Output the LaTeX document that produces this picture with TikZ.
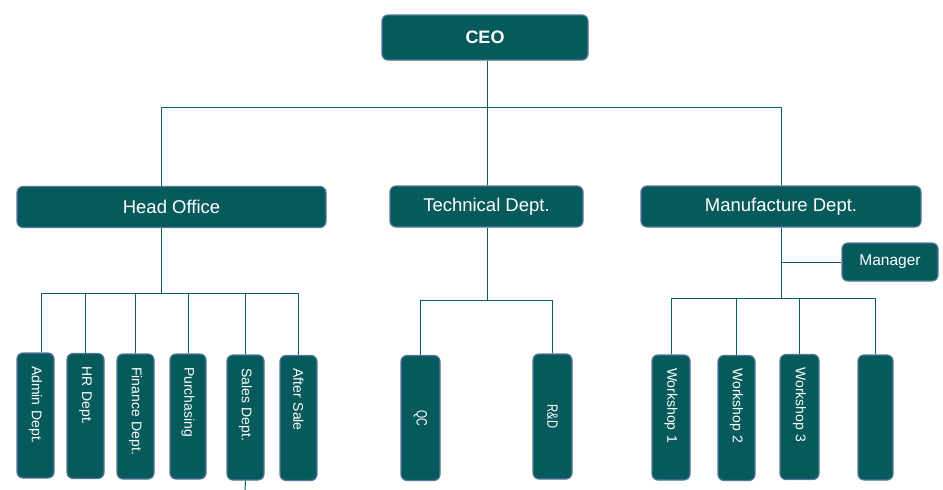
\documentclass[tikz,border=0pt]{standalone}
\usepackage{fontspec}
\setmainfont{Liberation Sans}
\definecolor{boxfill}{HTML}{075A5C}
\definecolor{boxline}{RGB}{84,118,152}
\definecolor{wirecol}{HTML}{0B5E5A}

\begin{document}
\begin{tikzpicture}[x=1pt,y=-1pt,
    box/.style={draw=boxline, line width=1.2pt, fill=boxfill, rounded corners=6pt, text=white, inner sep=0pt},
    topbox/.style={box, minimum height=41pt, font=\fontsize{18.5}{20}\selectfont},
    vbox/.style={box, rotate=-90, minimum height=37pt, inner xsep=13pt, text width=99pt, align=left, font=\fontsize{14}{16}\selectfont},
    wire/.style={draw=wirecol, line width=1pt}]
    \useasboundingbox (0,0) rectangle (943,490);

    % top levels
    \node[topbox, minimum width=206pt, minimum height=45pt, font=\bfseries\fontsize{18}{20}\selectfont] (ceo) at (485,37.5) {CEO};
    \node[topbox, minimum width=309pt] (head) at (171.5,207) {Head Office};
    \node[topbox, minimum width=193pt] (tech) at (486.5,206.5) {Technical Dept.};
    \node[topbox, minimum width=280pt] (manu) at (781,206.5) {Manufacture Dept.};
    \node[box, minimum width=96pt, minimum height=38pt, font=\fontsize{15.5}{17}\selectfont] (mgr) at (890,262) {Manager};

    % head office units
    \node[vbox] (admin) at (35.5,415.5) {Admin Dept.};
    \node[vbox] (hr) at (85.5,416) {HR Dept.};
    \node[vbox] (fin) at (135.5,416.5) {Finance Dept.};
    \node[vbox, minimum height=36pt] (pur) at (188,416.5) {Purchasing};
    \node[vbox] (sales) at (245.5,417.5) {Sales Dept.};
    \node[vbox] (after) at (298.5,418) {After Sale};

    % technical units
    \node[vbox, align=center, minimum height=39pt] (qc) at (420.5,418) {\scalebox{0.7}[1]{\fontsize{15}{16}\selectfont QC}};
    \node[vbox, align=center, minimum height=39pt] (rd) at (552.5,416.5) {\scalebox{0.75}[1]{\fontsize{15}{16}\selectfont R\&D}};

    % workshops
    \node[vbox, minimum height=38pt] (w1) at (671,417.5) {Workshop 1};
    \node[vbox] (w2) at (736.5,418) {Workshop 2};
    \node[vbox, minimum height=39pt] (w3) at (799.5,417) {Workshop 3};
    \node[vbox, minimum height=35pt] (w4) at (875.5,417.5) {};

    % connectors
    \coordinate (top) at (487,107);
    \coordinate (hdrop) at (161,107);
    \coordinate (hbus) at (161,293);
    \coordinate (tbus) at (487,300);
    \coordinate (mbus) at (781,298);
    \coordinate (atap) at ([xshift=5.5pt]admin.west);
    \coordinate (salestail) at (245,490);

    \draw[wire] (top |- ceo.south) -- (top);
    \draw[wire] (hdrop |- head.north) -- (hdrop) -- (manu.north |- top) -- (manu.north);
    \draw[wire] (top |- tech.north) -- (top);

    \draw[wire] (hdrop |- head.south) -- (hbus);
    \draw[wire] (atap) |- (after.west |- hbus) -- (after.west);
    \foreach \b in {hr,fin,pur,sales}
        \draw[wire] (\b.west) -- (\b.west |- hbus);
    \draw[wire] (sales.east) -- (salestail);

    \draw[wire] (tbus |- tech.south) -- (tbus);
    \draw[wire] (qc.west) |- (rd.west |- tbus) -- (rd.west);

    \draw[wire] (manu.south) -- (mbus);
    \draw[wire] (mgr.west) -- (mgr.west -| manu.south);
    \draw[wire] (w1.west) |- (w4.west |- mbus) -- (w4.west);
    \foreach \b in {w2,w3}
        \draw[wire] (\b.west) -- (\b.west |- mbus);
\end{tikzpicture}
\end{document}
